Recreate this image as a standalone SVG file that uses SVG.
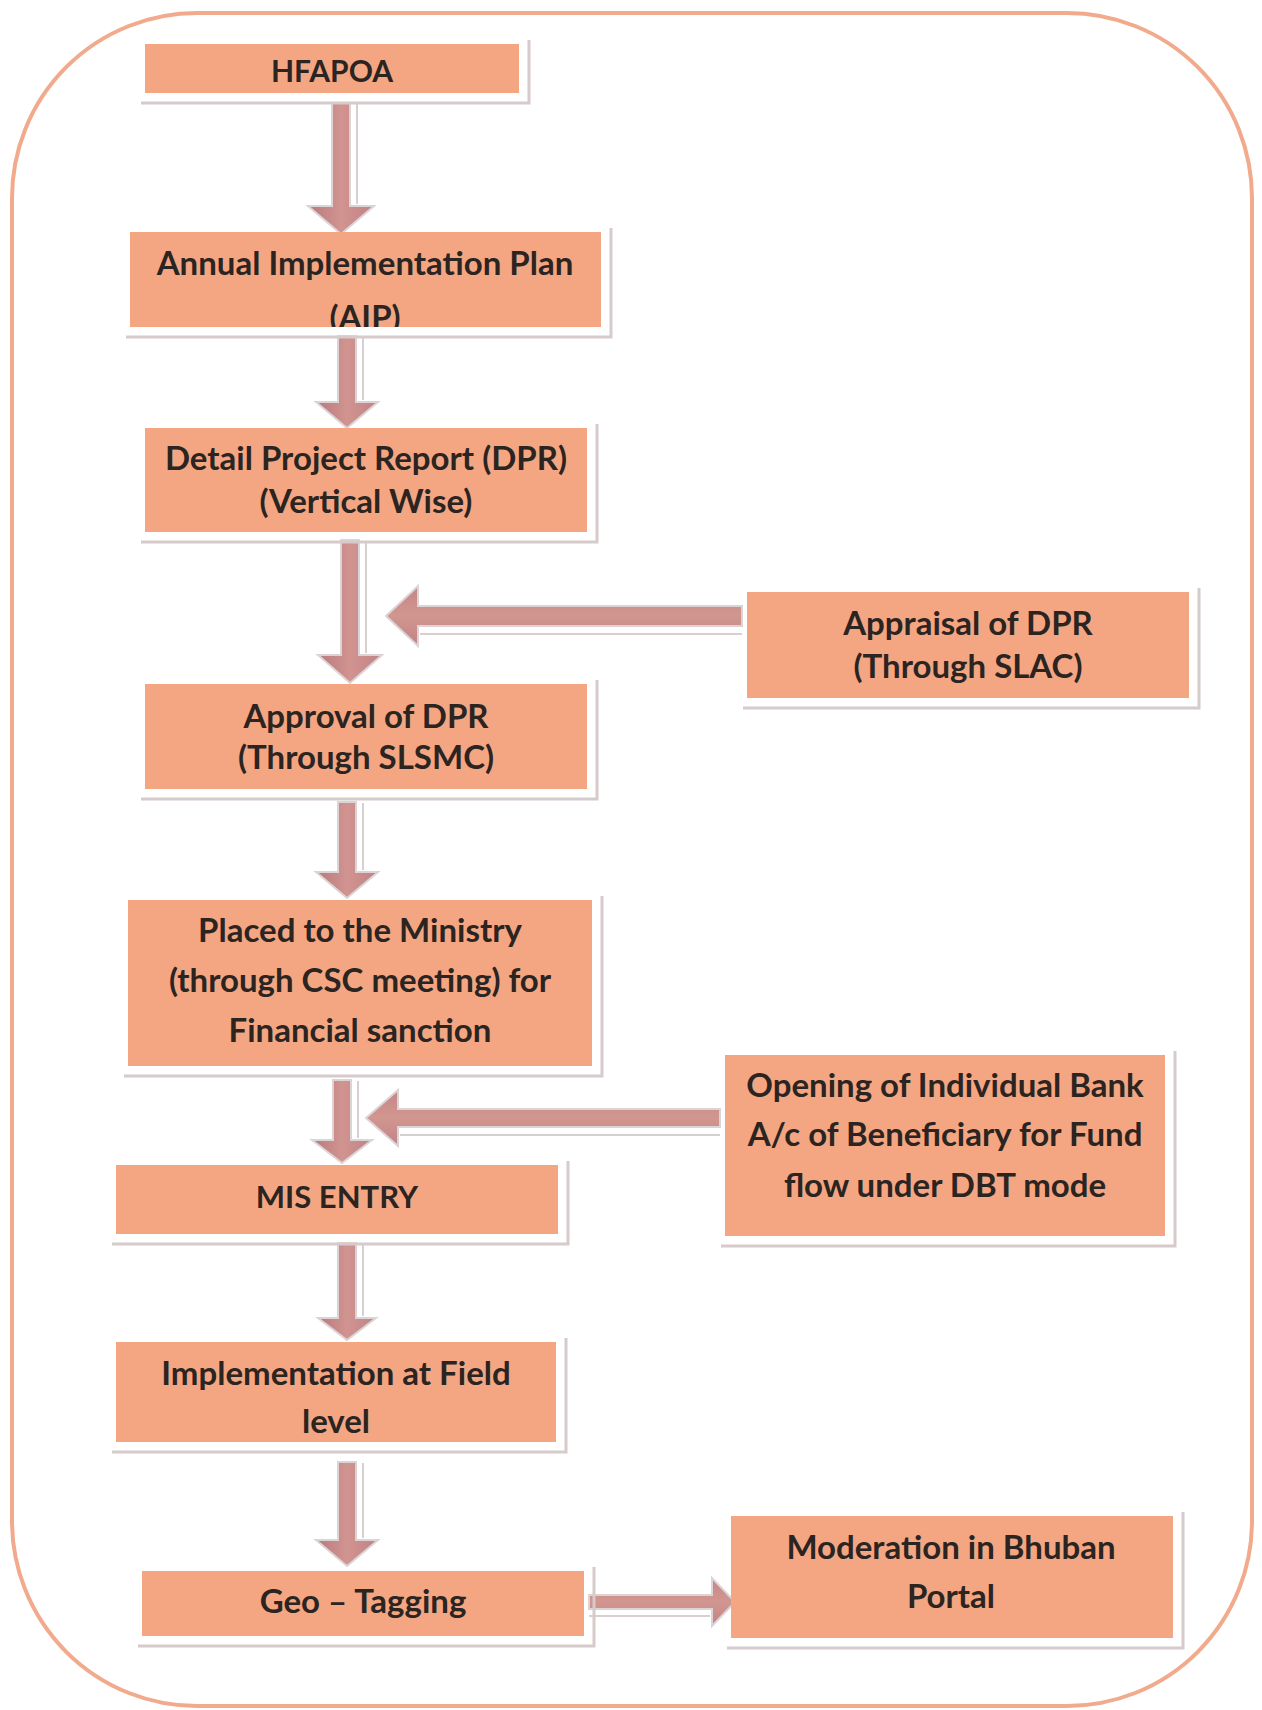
<svg xmlns="http://www.w3.org/2000/svg" width="1262" height="1710" viewBox="0 0 1262 1710">
<style>
.box{fill:#f4a683;}
.sh{fill:none;stroke:#d6caca;stroke-width:3;}
.t{font-family:Lato,"Open Sans","Liberation Sans",sans-serif;font-weight:bold;font-size:33px;fill:#2b2421;text-anchor:middle;}
.s30{font-size:30px;}
.s31{font-size:31px;}
.arr{fill:url(#ag);stroke:#dcd4d4;stroke-width:2;}
.arrh{fill:url(#agh);stroke:#dcd4d4;stroke-width:2;}
.edge{fill:none;stroke:#d8d0d0;stroke-width:2;}
</style>
<defs>
<linearGradient id="ag" x1="0" y1="0" x2="1" y2="0">
<stop offset="0" stop-color="#b9797e"/>
<stop offset="0.5" stop-color="#d19490"/>
<stop offset="1" stop-color="#c08386"/>
</linearGradient>
<linearGradient id="agh" x1="0" y1="0" x2="0" y2="1">
<stop offset="0" stop-color="#c58687"/>
<stop offset="0.5" stop-color="#d29690"/>
<stop offset="1" stop-color="#c08386"/>
</linearGradient>
<clipPath id="clipAIP"><rect x="130" y="232" width="471" height="95"/></clipPath>
</defs>
<rect width="1262" height="1710" fill="#ffffff"/>
<rect x="12" y="13" width="1240" height="1693" rx="185" ry="185" fill="none" stroke="#f1aa8c" stroke-width="4"/>

<g id="connectors">
<path class="arr" d="M332,103 H350 V206 H374 L341,234 L308,206 H332 Z"/>
<line class="edge" x1="357" y1="104" x2="357" y2="204"/>
<path class="arr" d="M338,336 H356 V402 H378 L347,428 L316,402 H338 Z"/>
<line class="edge" x1="363" y1="337" x2="363" y2="400"/>
<path class="arr" d="M341,540 H359 V655 H382 L350,683 L318,655 H341 Z"/>
<line class="edge" x1="366" y1="541" x2="366" y2="653"/>
<path class="arr" d="M338,802 H356 V872 H378 L347,898 L316,872 H338 Z"/>
<line class="edge" x1="363" y1="803" x2="363" y2="870"/>
<path class="arr" d="M333,1080 H351 V1140 H372 L342,1163 L312,1140 H333 Z"/>
<line class="edge" x1="358" y1="1081" x2="358" y2="1138"/>
<path class="arr" d="M338,1243 H356 V1318 H376 L347,1340 L318,1318 H338 Z"/>
<line class="edge" x1="363" y1="1244" x2="363" y2="1316"/>
<path class="arr" d="M338,1462 H356 V1540 H378 L347,1566 L316,1540 H338 Z"/>
<line class="edge" x1="363" y1="1463" x2="363" y2="1538"/>
<path class="arrh" d="M742,606 V626 H418 V646 L386,616 L418,586 V606 Z"/>
<line class="edge" x1="420" y1="634" x2="742" y2="634"/>
<path class="arrh" d="M720,1109 V1127 H398 V1146 L366,1118 L398,1090 V1109 Z"/>
<line class="edge" x1="400" y1="1135" x2="720" y2="1135"/>
<path class="arrh" d="M589,1595 V1609 H712 V1626 L735,1602 L712,1578 V1595 Z"/>
<line class="edge" x1="589" y1="1616" x2="710" y2="1616"/>
</g>

<g id="n-hfapoa">
<path class="sh" d="M141,103 H529 V40"/>
<rect class="box" x="145" y="44" width="374" height="49"/>
<text class="t s30" x="332" y="82">HFAPOA</text>
</g>
<g id="n-aip">
<path class="sh" d="M126,337 H611 V228"/>
<rect class="box" x="130" y="232" width="471" height="95"/>
<g clip-path="url(#clipAIP)">
<text class="t" x="365" y="275">Annual Implementation Plan</text>
<text class="t" x="365" y="329">(AIP)</text>
</g>
</g>
<g id="n-dpr">
<path class="sh" d="M141,542 H597 V424"/>
<rect class="box" x="145" y="428" width="442" height="104"/>
<text class="t" x="366" y="470">Detail Project Report (DPR)</text>
<text class="t" x="366" y="513">(Vertical Wise)</text>
</g>
<g id="n-appraisal">
<path class="sh" d="M743,708 H1199 V588"/>
<rect class="box" x="747" y="592" width="442" height="106"/>
<text class="t" x="968" y="635">Appraisal of DPR</text>
<text class="t" x="968" y="678">(Through SLAC)</text>
</g>
<g id="n-approval">
<path class="sh" d="M141,799 H597 V680"/>
<rect class="box" x="145" y="684" width="442" height="105"/>
<text class="t" x="366" y="728">Approval of DPR</text>
<text class="t" x="366" y="769">(Through SLSMC)</text>
</g>
<g id="n-placed">
<path class="sh" d="M124,1076 H602 V896"/>
<rect class="box" x="128" y="900" width="464" height="166"/>
<text class="t" x="360" y="942">Placed to the Ministry</text>
<text class="t" x="360" y="992">(through CSC meeting) for</text>
<text class="t" x="360" y="1042">Financial sanction</text>
</g>
<g id="n-opening">
<path class="sh" d="M721,1246 H1175 V1051"/>
<rect class="box" x="725" y="1055" width="440" height="181"/>
<text class="t" x="945" y="1097">Opening of Individual Bank</text>
<text class="t" x="945" y="1146">A/c of Beneficiary for Fund</text>
<text class="t" x="945" y="1197">flow under DBT mode</text>
</g>
<g id="n-mis">
<path class="sh" d="M112,1244 H568 V1161"/>
<rect class="box" x="116" y="1165" width="442" height="69"/>
<text class="t s31" x="337" y="1208">MIS ENTRY</text>
</g>
<g id="n-impl">
<path class="sh" d="M112,1452 H566 V1338"/>
<rect class="box" x="116" y="1342" width="440" height="100"/>
<text class="t" x="336" y="1385">Implementation at Field</text>
<text class="t" x="336" y="1433">level</text>
</g>
<g id="n-geo">
<path class="sh" d="M138,1646 H594 V1567"/>
<rect class="box" x="142" y="1571" width="442" height="65"/>
<text class="t" x="363" y="1613">Geo – Tagging</text>
</g>
<g id="n-moderation">
<path class="sh" d="M727,1648 H1183 V1512"/>
<rect class="box" x="731" y="1516" width="442" height="122"/>
<text class="t" x="951" y="1559">Moderation in Bhuban</text>
<text class="t" x="951" y="1608">Portal</text>
</g>
</svg>
